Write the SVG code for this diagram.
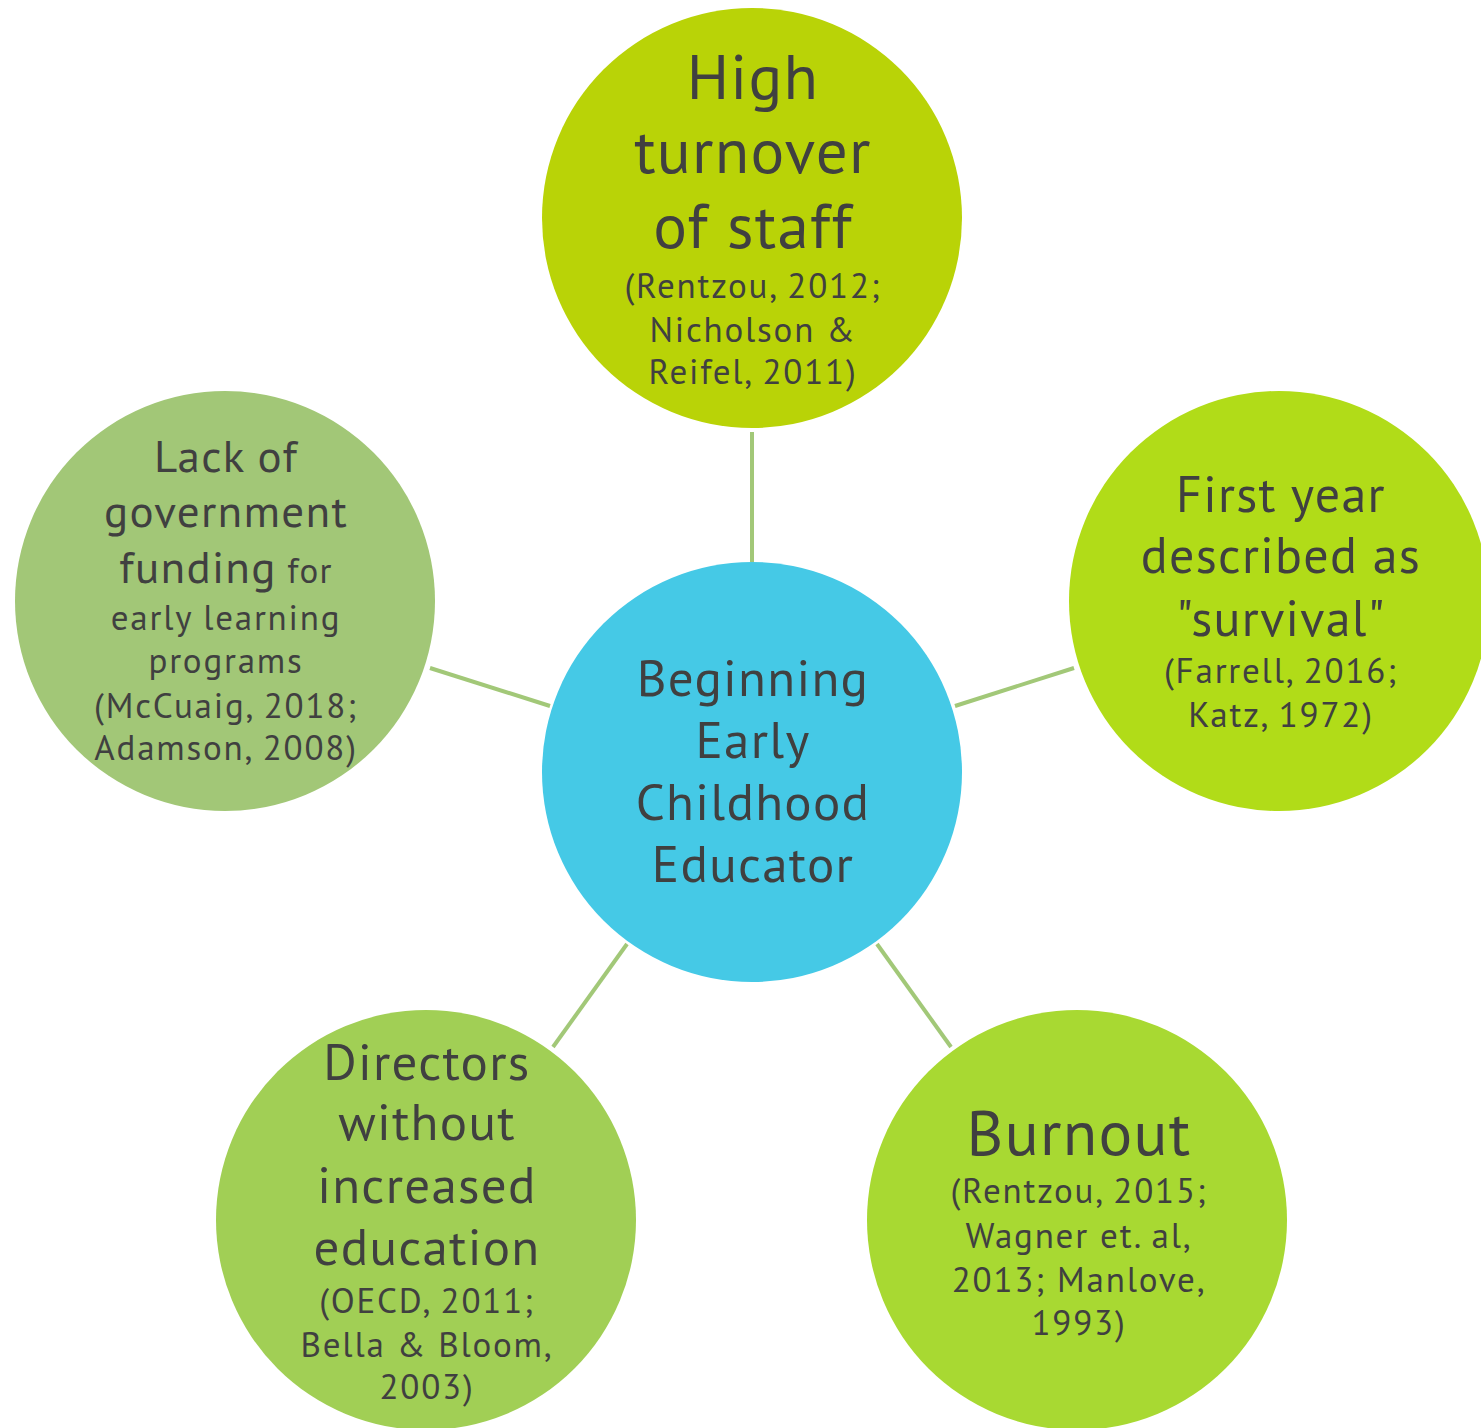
<svg xmlns="http://www.w3.org/2000/svg" width="1481" height="1428" viewBox="0 0 1481 1428">
  <style>
    text { font-family: "PT Sans", Lato, "Noto Sans", sans-serif; fill: #404040; text-anchor: middle; letter-spacing: 1.3px; }
    .cite { font-size: 35px; letter-spacing: 1.8px; }
    .link { stroke: #a2c878; stroke-width: 4; fill: none; }
  </style>
  <rect width="1481" height="1428" fill="#ffffff"/>

  <!-- spokes from the hub to each outer circle -->
  <g id="connectors">
    <line class="link" x1="752" y1="432" x2="752" y2="562"/>
    <line class="link" x1="955" y1="706" x2="1074" y2="668"/>
    <line class="link" x1="430" y1="668" x2="550" y2="706"/>
    <line class="link" x1="627" y1="944" x2="553" y2="1047"/>
    <line class="link" x1="877" y1="944" x2="951" y2="1047"/>
  </g>

  <g id="hub">
    <circle cx="752" cy="772" r="210" fill="#45c9e6"/>
    <text font-size="51" x="753" y="696">Beginning</text>
    <text font-size="51" x="753" y="758">Early</text>
    <text font-size="51" x="753" y="820">Childhood</text>
    <text font-size="51" x="753" y="882">Educator</text>
  </g>

  <g id="turnover">
    <circle cx="752" cy="218" r="210" fill="#b9d307"/>
    <text font-size="63" x="753" y="99">High</text>
    <text font-size="63" x="753" y="173">turnover</text>
    <text font-size="63" x="753" y="248">of staff</text>
    <text class="cite" x="753" y="298">(Rentzou, 2012;</text>
    <text class="cite" x="753" y="342">Nicholson &amp;</text>
    <text class="cite" x="753" y="384">Reifel, 2011)</text>
  </g>

  <g id="survival">
    <circle cx="1279" cy="601" r="210" fill="#b1dc18"/>
    <text font-size="50" x="1281" y="512">First year</text>
    <text font-size="50" x="1281" y="573">described as</text>
    <text font-size="50" x="1281" y="636">"survival"</text>
    <text class="cite" x="1281" y="683">(Farrell, 2016;</text>
    <text class="cite" x="1281" y="727">Katz, 1972)</text>
  </g>

  <g id="burnout">
    <circle cx="1077" cy="1220" r="210" fill="#a8d932"/>
    <text font-size="63" x="1079" y="1155" letter-spacing="0.5">Burnout</text>
    <text class="cite" x="1079" y="1203">(Rentzou, 2015;</text>
    <text class="cite" x="1079" y="1248">Wagner et. al,</text>
    <text class="cite" x="1079" y="1292">2013; Manlove,</text>
    <text class="cite" x="1079" y="1335">1993)</text>
  </g>

  <g id="directors">
    <circle cx="426" cy="1220" r="210" fill="#a1cf55"/>
    <text font-size="51" x="427" y="1080">Directors</text>
    <text font-size="51" x="427" y="1140">without</text>
    <text font-size="51" x="427" y="1203">increased</text>
    <text font-size="51" x="427" y="1265">education</text>
    <text class="cite" x="427" y="1313">(OECD, 2011;</text>
    <text class="cite" x="427" y="1357">Bella &amp; Bloom,</text>
    <text class="cite" x="427" y="1399">2003)</text>
  </g>

  <g id="funding">
    <circle cx="225" cy="601" r="210" fill="#a2c777"/>
    <text font-size="45" x="226" y="472">Lack of</text>
    <text font-size="45" x="226" y="527">government</text>
    <text x="226" y="583"><tspan font-size="45">funding</tspan><tspan font-size="35"> for</tspan></text>
    <text class="cite" x="226" y="630">early learning</text>
    <text class="cite" x="226" y="673">programs</text>
    <text class="cite" x="226" y="718">(McCuaig, 2018;</text>
    <text class="cite" x="226" y="760">Adamson, 2008)</text>
  </g>
</svg>
